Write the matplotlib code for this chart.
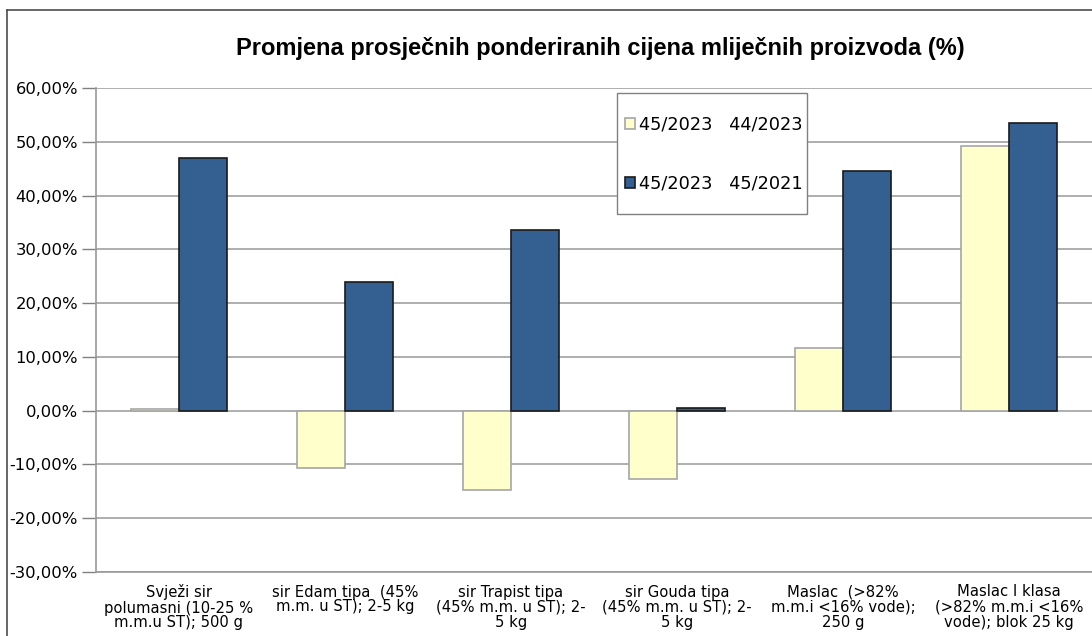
import numpy as np, matplotlib; matplotlib.use('Agg'); import matplotlib.pyplot as plt
from matplotlib.ticker import FuncFormatter
from matplotlib.lines import Line2D
from matplotlib.patches import Rectangle
plt.rcParams['font.family']=['DejaVu Sans']

categories=["Svježi sir\npolumasni (10-25 %\nm.m.u ST); 500 g",
            "sir Edam tipa  (45%\nm.m. u ST); 2-5 kg",
            "sir Trapist tipa\n(45% m.m. u ST); 2-\n5 kg",
            "sir Gouda tipa\n(45% m.m. u ST); 2-\n5 kg",
            "Maslac  (>82%\nm.m.i <16% vode);\n250 g",
            "Maslac I klasa\n(>82% m.m.i <16%\nvode); blok 25 kg"]
week_change=[0.3,-10.6,-14.8,-12.7,11.6,49.3]   # 45/2023 vs 44/2023
year_change=[46.9,23.9,33.6,0.5,44.6,53.4]      # 45/2023 vs 45/2021
series_labels=["45/2023   44/2023","45/2023   45/2021"]
yticks=list(range(-30,61,10))

fig=plt.figure(figsize=(10.92,6.36),dpi=100)
ax=fig.add_axes([96/1092,1-572/636,1-96/1092,(572-88)/636])
x=np.arange(len(categories)); w=0.29
ax.bar(x-w/2,week_change,w,color='#FFFFCC',edgecolor='#A6A6A6',lw=1.2,label=series_labels[0],zorder=3)
ax.bar(x+w/2,year_change,w,color='#335F91',edgecolor='#1A1A1A',lw=1.2,label=series_labels[1],zorder=3)
ax.set_xlim(-0.5,len(categories)-0.5); ax.set_ylim(-30,60)
ax.set_yticks(yticks)
ax.yaxis.set_major_formatter(FuncFormatter(lambda v,p: f"{v:.2f}%".replace('.',',')))
ax.tick_params(axis='y',labelsize=11.8,length=10,width=1,color='#808080',pad=3)
ax.set_xticks([])
ax.grid(axis='y',color='#999999',lw=1.1,zorder=0)
for s in ['top','right']: ax.spines[s].set_visible(False)
ax.spines['left'].set_color('#999999'); ax.spines['bottom'].set_color('#999999')
ax.spines['left'].set_linewidth(1.2); ax.spines['bottom'].set_linewidth(1.2)
for i,lab in enumerate(categories):
    ax.annotate(lab,(i,-30),xytext=(0,-9),textcoords='offset points',ha='center',va='top',
                fontsize=10.6,linespacing=1.0,annotation_clip=False)
# legend box drawn separately so vertical/horizontal padding can differ
ax.add_patch(Rectangle(((617-96)/996,(572-214)/484),190/996,121/484,transform=ax.transAxes,
                       facecolor='white',edgecolor='#808080',lw=1,zorder=6,clip_on=False))
leg=ax.legend(loc='center',bbox_to_anchor=((714-96)/996,(572-154)/484),borderaxespad=0,
              fontsize=12.8,handlelength=0.55,handleheight=0.55,handletextpad=0.2,labelspacing=2.3,
              borderpad=0.3,frameon=False)
leg.set_zorder(7)
fig.text(600/1092,1-48/636,"Promjena prosječnih ponderiranih cijena mliječnih proizvoda (%)",
         ha='center',va='center',fontsize=17,fontweight='bold',family=['Liberation Sans','DejaVu Sans'])
# outer chart border
fig.add_artist(Line2D([7/1092,7/1092],[0,1-10/636],color='#4d4d4d',lw=1.2))
fig.add_artist(Line2D([7/1092,1],[1-10/636,1-10/636],color='#4d4d4d',lw=1.2))
fig.savefig("out.png",dpi=100)
